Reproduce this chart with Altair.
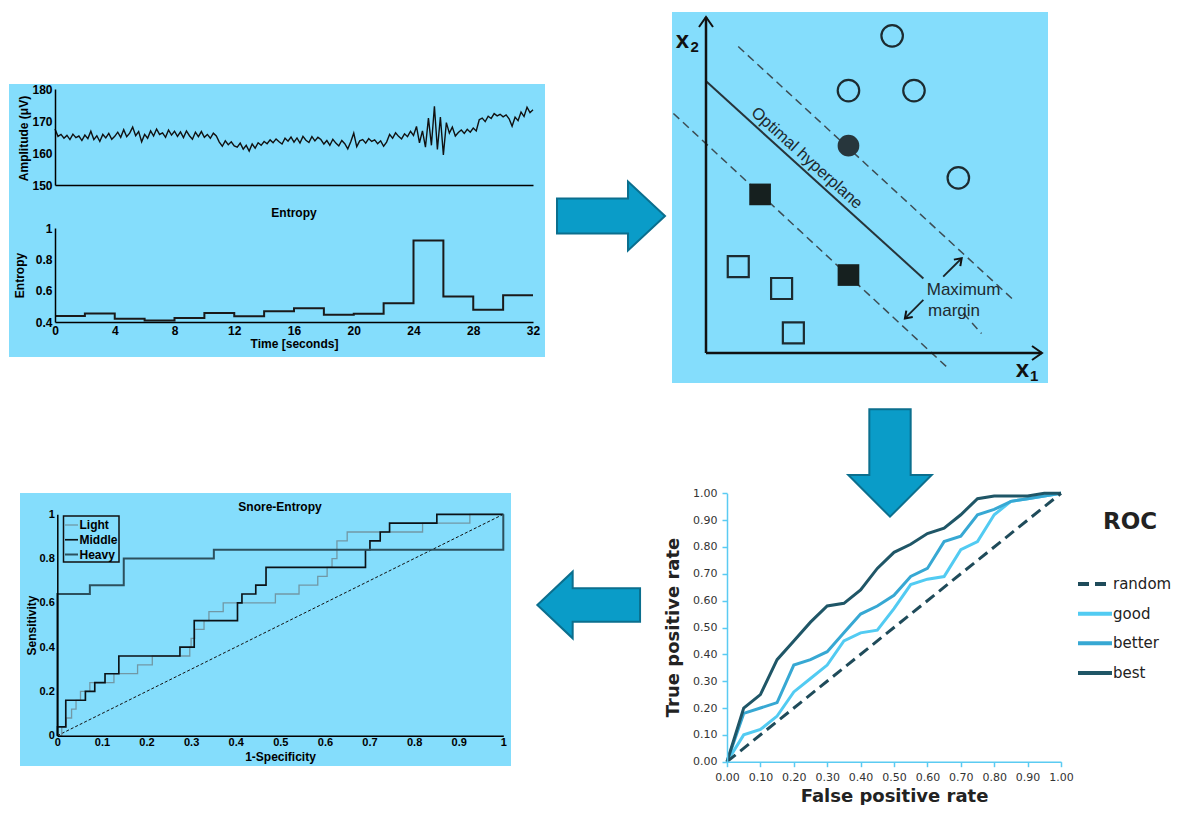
import altair as alt
import pandas as pd

# ------------------------------------------------------------------ data
# Panel 1: EEG amplitude (uV), read every 0.2 s from 0 s to 32 s
eeg_amplitude = [
    167.5, 165.2, 165.8, 164.6, 165.5, 164.2, 165.9, 164.8, 165.3, 163.9, 165.6,
    164.5, 166.8, 164.2, 165.4, 163.6, 165.8, 164.7, 166.1, 164.3, 165.2,
    166.5, 164.9, 167.3, 165.1, 166.2, 168.1, 165.4, 166.7, 163.5, 165.8,
    164.6, 166.9, 165.3, 167.5, 165.8, 166.3, 164.9, 167.2, 165.6, 166.8,
    165.2, 166.6, 164.8, 166.9, 165.4, 164.3, 166.5, 165.1, 166.7, 164.9,
    165.8, 164.6, 166.2, 165.3, 163.4, 162.1, 163.8, 162.6, 163.5, 162.2,
    161.8, 163.1, 161.2, 162.4, 160.6, 162.8, 161.5, 163.2, 162.4, 163.6,
    162.9, 164.1, 163.2, 164.4, 163.5, 162.8, 164.6, 163.7, 165.0, 163.4,
    164.7, 163.1, 165.2, 164.0, 163.3, 165.1, 163.8, 164.9, 164.2, 162.8,
    163.9, 162.4, 164.3, 163.1, 162.2, 163.9, 162.9, 161.3, 163.5, 166.2,
    162.0, 163.8, 164.2, 163.1, 164.5, 163.6, 164.1, 162.9, 163.8, 162.1,
    163.4, 165.8, 164.6, 166.3, 165.2, 164.4, 166.0, 165.1, 166.8, 165.5,
    168.3, 163.2, 166.9, 161.8, 170.9, 162.4, 174.6, 161.1, 171.2, 159.4,
    169.5, 166.2, 168.1, 165.3, 166.4, 167.2, 166.1, 167.4, 166.5, 167.8,
    166.9, 170.4, 170.9, 169.8, 171.5, 170.8, 172.3, 171.6, 172.1, 171.3,
    171.9, 170.7, 168.4, 171.2, 170.1, 172.8, 171.4, 174.3, 172.6, 173.5,
]
eeg_time = [round(0.2 * i, 1) for i in range(len(eeg_amplitude))]

# Panel 1: entropy per 2-s window
entropy_time = [0, 2, 4, 6, 8, 10, 12, 14, 16, 18, 20, 22, 24, 26, 28, 30, 32]
entropy_value = [0.438, 0.455, 0.421, 0.410, 0.425, 0.457, 0.436, 0.469, 0.488,
                 0.446, 0.453, 0.520, 0.920, 0.562, 0.478, 0.571, 0.571]

# Panel 2: SVM sketch (abstract units 0..10)
svm_open_circle_x = [5.54, 4.24, 6.19, 7.51]
svm_open_circle_y = [9.44, 7.81, 7.81, 5.21]
svm_filled_circle_x = [4.24]
svm_filled_circle_y = [6.17]
svm_filled_square_x = [1.61, 4.24]
svm_filled_square_y = [4.72, 2.32]
svm_open_square_x = [0.96, 2.25, 2.60]
svm_open_square_y = [2.57, 1.92, 0.60]
svm_axis_x0, svm_axis_y0, svm_axis_x1, svm_axis_y1 = [0, 0], [0, 0], [10, 0], [0, 10]
svm_plane_x0, svm_plane_y0, svm_plane_x1, svm_plane_y1 = [0.02], [8.07], [6.47], [2.22]
svm_margin_x0 = [0.96, -0.97, 7.66]
svm_margin_y0 = [9.12, 7.13, 1.18]
svm_margin_x1 = [9.15, 7.16, 8.20]
svm_margin_y1 = [1.58, -0.41, 0.58]
svm_pointer_x0, svm_pointer_y0 = [7.06, 6.47], [2.27, 1.58]
svm_pointer_x1, svm_pointer_y1 = [7.61, 5.92], [2.82, 1.03]
svm_head_x = [10, 0, 7.61, 5.92]
svm_head_y = [0, 10, 2.82, 1.03]
svm_head_angle = [0, 270, 315, 135]
svm_head_size = [400, 400, 170, 170]

# Panel 3: Snore-Entropy ROC (step curves)
light_fpr = [0, 0.010, 0.020, 0.032, 0.042, 0.052, 0.073, 0.127, 0.180, 0.213,
             0.297, 0.300, 0.308, 0.329, 0.340, 0.372, 0.489, 0.542, 0.584, 0.605,
             0.616, 0.627, 0.650, 0.819, 0.925, 1.0]
light_tpr = [0, 0.04, 0.08, 0.12, 0.16, 0.20, 0.24, 0.28, 0.32, 0.36,
             0.40, 0.44, 0.48, 0.52, 0.56, 0.60, 0.64, 0.68, 0.72, 0.76,
             0.80, 0.88, 0.92, 0.96, 1.0, 1.0]
middle_fpr = [0, 0, 0.019, 0.063, 0.084, 0.107, 0.138, 0.275, 0.307, 0.404,
              0.414, 0.445, 0.468, 0.691, 0.701, 0.724, 0.745, 0.851, 1.0]
middle_tpr = [0, 0.04, 0.16, 0.20, 0.24, 0.28, 0.36, 0.40, 0.52, 0.60,
              0.64, 0.68, 0.76, 0.84, 0.88, 0.92, 0.96, 1.0, 1.0]
heavy_fpr = [0, 0, 0.073, 0.149, 0.351, 1.0]
heavy_tpr = [0, 0.64, 0.68, 0.80, 0.84, 1.0]
snore_names = ["Light", "Middle", "Heavy"]
snore_colors = ["#7198a5", "#0b1216", "#2c505d"]
snore_widths = [1.3, 2.0, 2.0]

# Panel 4: ROC comparison
roc_fpr = [0.00, 0.05, 0.10, 0.15, 0.20, 0.25, 0.30, 0.35, 0.40, 0.45, 0.50,
           0.55, 0.60, 0.65, 0.70, 0.75, 0.80, 0.85, 0.90, 0.95, 1.00]
good_tpr = [0.00, 0.10, 0.12, 0.17, 0.26, 0.31, 0.36, 0.45, 0.48, 0.49, 0.57,
            0.66, 0.68, 0.69, 0.79, 0.82, 0.92, 0.97, 0.98, 0.99, 1.00]
better_tpr = [0.00, 0.18, 0.20, 0.22, 0.36, 0.38, 0.41, 0.48, 0.55, 0.58, 0.62,
              0.69, 0.72, 0.82, 0.84, 0.92, 0.94, 0.97, 0.98, 0.99, 1.00]
best_tpr = [0.00, 0.20, 0.25, 0.38, 0.45, 0.52, 0.58, 0.59, 0.64, 0.72, 0.78,
            0.81, 0.85, 0.87, 0.92, 0.98, 0.99, 0.99, 0.99, 1.00, 1.00]
random_fpr = [0, 1]
random_tpr = [0, 1]
roc_names = ["random", "good", "better", "best"]
roc_colors = ["#1f4b5a", "#52cbf2", "#37a8d3", "#1f5667"]
roc_dashes = [[11, 6], [1, 0], [1, 0], [1, 0]]

# ------------------------------------------------------------------ layout helpers
W, H = 1165, 797
OX, OY = 8, 8
BG = "#84DDFC"
MFONT = "Liberation Sans"
RFONT = "DejaVu Sans"
ARROW_FILL = "#0a9cc8"
ARROW_EDGE = "#0b6f8e"


def px(v):
    return v - OX


def py(v):
    return v - OY


one = pd.DataFrame({"k": [0]})


def lin_x(domain, a, b):
    return alt.Scale(domain=domain, range=[px(a), px(b)], nice=False, zero=False)


def lin_y(domain, a, b):
    return alt.Scale(domain=domain, range=[py(a), py(b)], nice=False, zero=False)


def rect(x0, y0, x1, y1, **kw):
    return alt.Chart(one).mark_rect(**kw).encode(
        x=alt.value(px(x0)), x2=alt.value(px(x1)), y=alt.value(py(y0)), y2=alt.value(py(y1)))


def label(text, x, y, **kw):
    return alt.Chart(one).mark_text(text=text, **kw).encode(x=alt.value(px(x)), y=alt.value(py(y)))


def arrow(path, cx, cy, span):
    return alt.Chart(one).mark_point(
        shape=path, size=span * span, filled=True, fill=ARROW_FILL, stroke=ARROW_EDGE,
        strokeWidth=2, opacity=1, fillOpacity=1, strokeOpacity=1,
    ).encode(x=alt.value(px(cx)), y=alt.value(py(cy)))


def m_left(axis_x, values, title, tx, ty, fmt=None, size=12):
    d = dict(orient="left", offset=-px(axis_x), values=values, ticks=False, tickSize=0,
             labelPadding=3, labelFont=MFONT, labelFontSize=size, labelFontWeight="bold",
             labelColor="black", domainColor="black", domainWidth=1.5, grid=False, zindex=1,
             labelOverlap=False, title=title, titleFont=MFONT, titleFontSize=12,
             titleFontWeight="bold", titleColor="black", titleAngle=270, titleAlign="center",
             titleBaseline="middle", titleX=tx - axis_x, titleY=py(ty))
    if fmt:
        d["format"] = fmt
    return alt.Axis(**d)


def m_bottom(axis_y, values, title, tx, ty, fmt=None, size=12, pad=3):
    d = dict(orient="bottom", offset=py(axis_y) - H, values=values, ticks=False, tickSize=0,
             labelPadding=pad, labelFont=MFONT, labelFontSize=size, labelFontWeight="bold",
             labelColor="black", domainColor="black", domainWidth=1.5, grid=False, zindex=1,
             labelOverlap=False, labelFlush=False, title=title, titleFont=MFONT,
             titleFontSize=12, titleFontWeight="bold", titleColor="black", titleAngle=0,
             titleAlign="center", titleBaseline="middle", titleX=px(tx), titleY=ty - axis_y)
    if fmt:
        d["format"] = fmt
    return alt.Axis(**d)


layers = []

# ------------------------------------------------------------------ panel backgrounds
layers.append(rect(9, 84, 545, 357, color=BG))
layers.append(rect(672, 12, 1048, 383, color=BG))
layers.append(rect(20, 493, 511, 766, color=BG))

# ------------------------------------------------------------------ panel 1: EEG + entropy
eeg_df = pd.DataFrame({"t": eeg_time, "amp": eeg_amplitude})
layers.append(alt.Chart(eeg_df).mark_line(color="#111111", strokeWidth=1.4).encode(
    x=alt.X("t:Q", scale=lin_x([0, 32], 55, 533),
            axis=alt.Axis(orient="bottom", offset=py(185) - H, labels=False, ticks=False,
                          tickSize=0, title=None, domainColor="black", domainWidth=1.5,
                          grid=False, zindex=1)),
    y=alt.Y("amp:Q", scale=lin_y([150, 180], 185, 89),
            axis=m_left(55, [150, 160, 170, 180], "Amplitude (μV)", 23, 138)),
))

ent_df = pd.DataFrame({"t": entropy_time, "ent": entropy_value})
layers.append(alt.Chart(ent_df).mark_line(color="#1a1a1a", strokeWidth=2, interpolate="step-after").encode(
    x=alt.X("t:Q", scale=lin_x([0, 32], 55, 533),
            axis=m_bottom(322, list(range(0, 33, 4)), "Time [seconds]", 294, 343)),
    y=alt.Y("ent:Q", scale=lin_y([0.4, 1.0], 322, 228),
            axis=m_left(55, [0.4, 0.6, 0.8, 1.0], "Entropy", 19, 275, fmt="~g")),
))
layers.append(label("Entropy", 294, 213, font=MFONT, fontSize=12, fontWeight="bold",
                    align="center", baseline="middle", color="black"))

# ------------------------------------------------------------------ panel 2: SVM sketch


def svx(field):
    return alt.X(field, scale=lin_x([0, 10], 706, 1042), axis=None)


def svy(field):
    return alt.Y(field, scale=lin_y([0, 10], 353, 17), axis=None)


def segments(x0, y0, x1, y1, **mk):
    df = pd.DataFrame({"a": x0, "b": y0, "c": x1, "d": y1})
    return alt.Chart(df).mark_rule(**mk).encode(x=svx("a:Q"), y=svy("b:Q"), x2="c:Q", y2="d:Q")


def svm_points(xs, ys, **mk):
    df = pd.DataFrame({"sx": xs, "sy": ys})
    return alt.Chart(df).mark_point(opacity=1, **mk).encode(x=svx("sx:Q"), y=svy("sy:Q"))


def svm_text(text, x, y, **mk):
    df = pd.DataFrame({"tx": [x], "ty": [y]})
    return alt.Chart(df).mark_text(text=text, **mk).encode(x=svx("tx:Q"), y=svy("ty:Q"))


layers.append(segments(svm_margin_x0, svm_margin_y0, svm_margin_x1, svm_margin_y1,
                       color="#3d4d54", strokeWidth=1.5, strokeDash=[8, 5]))
layers.append(segments(svm_plane_x0, svm_plane_y0, svm_plane_x1, svm_plane_y1,
                       color="#27343a", strokeWidth=2))
layers.append(segments(svm_axis_x0, svm_axis_y0, svm_axis_x1, svm_axis_y1,
                       color="#111111", strokeWidth=2.5))
layers.append(segments(svm_pointer_x0, svm_pointer_y0, svm_pointer_x1, svm_pointer_y1,
                       color="#1a2428", strokeWidth=1.8))
head_df = pd.DataFrame({"hx": svm_head_x, "hy": svm_head_y, "ang": svm_head_angle, "sz": svm_head_size})
layers.append(alt.Chart(head_df).mark_point(
    shape="M-1,-0.7L0,0L-1,0.7", filled=False, color="#111111", strokeWidth=2, opacity=1
).encode(x=svx("hx:Q"), y=svy("hy:Q"), angle=alt.Angle("ang:Q", scale=None),
         size=alt.Size("sz:Q", scale=None)))

layers.append(svm_points(svm_open_circle_x, svm_open_circle_y, shape="circle", filled=False,
                         color="#1c2b30", size=462, strokeWidth=2.2))
layers.append(svm_points(svm_filled_circle_x, svm_filled_circle_y, shape="circle", filled=True,
                         color="#27363c", size=470))
layers.append(svm_points(svm_filled_square_x, svm_filled_square_y, shape="square", filled=True,
                         color="#16201f", size=470))
layers.append(svm_points(svm_open_square_x, svm_open_square_y, shape="square", filled=False,
                         color="#1c2b30", size=441, strokeWidth=2.2))

layers.append(svm_text("Optimal hyperplane", 3.0, 5.8, angle=42, font=MFONT, fontSize=16.5,
                       color="#1e2a2f", align="center", baseline="middle"))
layers.append(svm_text("Maximum", 6.57, 1.88, font=MFONT, fontSize=17, color="#1e2a2f",
                       align="left", baseline="middle"))
layers.append(svm_text("margin", 6.61, 1.24, font=MFONT, fontSize=17, color="#1e2a2f",
                       align="left", baseline="middle"))
layers.append(label("x", 682.5, 48, font=MFONT, fontSize=24, fontWeight="bold", color="#111111",
                    align="center", baseline="alphabetic"))
layers.append(label("2", 690.5, 52, font=MFONT, fontSize=15, fontWeight="bold", color="#111111",
                    align="left", baseline="alphabetic"))
layers.append(label("x", 1022.5, 377, font=MFONT, fontSize=24, fontWeight="bold", color="#111111",
                    align="center", baseline="alphabetic"))
layers.append(label("1", 1030, 381, font=MFONT, fontSize=15, fontWeight="bold", color="#111111",
                    align="left", baseline="alphabetic"))

# ------------------------------------------------------------------ panel 3: Snore-Entropy ROC
rows = []
for name, fx, ty in [("Light", light_fpr, light_tpr), ("Middle", middle_fpr, middle_tpr),
                     ("Heavy", heavy_fpr, heavy_tpr)]:
    for i, (a, b) in enumerate(zip(fx, ty)):
        rows.append({"series": name, "fpr": a, "tpr": b, "i": i})
snore_df = pd.DataFrame(rows)
tenths = [round(0.1 * i, 1) for i in range(11)]
fifths = [round(0.2 * i, 1) for i in range(6)]

layers.append(alt.Chart(pd.DataFrame({"u": random_fpr, "v": random_tpr})).mark_line(
    color="#111111", strokeWidth=1, strokeDash=[3, 2]).encode(
    x=alt.X("u:Q", scale=lin_x([0, 1], 57.3, 503.3), axis=None),
    y=alt.Y("v:Q", scale=lin_y([0, 1], 735.7, 514.3), axis=None)))
layers.append(alt.Chart(snore_df).mark_line(interpolate="step-after").encode(
    x=alt.X("fpr:Q", scale=lin_x([0, 1], 57.3, 503.3),
            axis=m_bottom(735.7, tenths, "1-Specificity", 280, 756.5, fmt="~g", size=11, pad=1)),
    y=alt.Y("tpr:Q", scale=lin_y([0, 1], 735.7, 514.3),
            axis=m_left(57.3, fifths, "Sensitivity", 31.7, 625, fmt="~g", size=11)),
    color=alt.Color("series:N", scale=alt.Scale(domain=snore_names, range=snore_colors), legend=None),
    strokeWidth=alt.StrokeWidth("series:N", scale=alt.Scale(domain=snore_names, range=snore_widths),
                                legend=None),
    order=alt.Order("i:Q"),
))
layers.append(label("Snore-Entropy", 280, 506.5, font=MFONT, fontSize=12, fontWeight="bold",
                    align="center", baseline="middle", color="black"))
# legend box
layers.append(rect(63.5, 516, 119, 562, fill=BG, stroke="#111111", strokeWidth=1.5))
sleg = pd.DataFrame({"series": snore_names})
sleg_y = alt.Y("series:N", scale=alt.Scale(domain=snore_names, range=[py(525), py(554.5)],
                                            type="point", padding=0), axis=None)
layers.append(alt.Chart(sleg).mark_rule().encode(
    x=alt.value(px(65)), x2=alt.value(px(78)), y=sleg_y,
    color=alt.Color("series:N", scale=alt.Scale(domain=snore_names, range=snore_colors), legend=None),
    strokeWidth=alt.StrokeWidth("series:N", scale=alt.Scale(domain=snore_names, range=snore_widths),
                                legend=None)))
layers.append(alt.Chart(sleg).mark_text(align="left", baseline="middle", font=MFONT, fontSize=12,
                                        fontWeight="bold", color="black").encode(
    x=alt.value(px(79.5)), y=sleg_y, text="series:N"))

# ------------------------------------------------------------------ panel 4: ROC comparison
rrows = []
for name, ty in [("good", good_tpr), ("better", better_tpr), ("best", best_tpr)]:
    for a, b in zip(roc_fpr, ty):
        rrows.append({"series": name, "fpr": a, "tpr": b})
roc_df = pd.DataFrame(rrows)
raxis = dict(domainColor="#5bcbf2", domainWidth=1.5, tickColor="#5bcbf2", tickWidth=1.5,
             tickSize=5, labelFont=RFONT, labelFontSize=11, labelColor="#333333",
             grid=False, zindex=1, labelOverlap=False, format=".2f", values=tenths,
             titleFont=RFONT, titleFontSize=18, titleFontWeight="bold", titleColor="#222222",
             titleAlign="center", titleBaseline="middle")
layers.append(alt.Chart(roc_df).mark_line(strokeWidth=3).encode(
    x=alt.X("fpr:Q", scale=lin_x([0, 1], 727, 1061),
            axis=alt.Axis(orient="bottom", offset=py(761.7) - H, labelPadding=5, labelFlush=False,
                          title="False positive rate", titleX=px(894), titleY=796 - 761.7,
                          titleAngle=0, **raxis)),
    y=alt.Y("tpr:Q", scale=lin_y([0, 1], 761.7, 493.3),
            axis=alt.Axis(orient="left", offset=-px(727), labelPadding=5,
                          title="True  positive rate", titleX=673 - 727, titleY=py(627),
                          titleAngle=270, **raxis)),
    color=alt.Color("series:N", scale=alt.Scale(domain=roc_names, range=roc_colors), legend=None),
))
layers.append(alt.Chart(pd.DataFrame({"u": random_fpr, "v": random_tpr})).mark_line(
    color=roc_colors[0], strokeWidth=3, strokeDash=[11, 6]).encode(
    x=alt.X("u:Q", scale=lin_x([0, 1], 727, 1061), axis=None),
    y=alt.Y("v:Q", scale=lin_y([0, 1], 761.7, 493.3), axis=None)))
layers.append(label("ROC", 1130, 522, font=RFONT, fontSize=23, fontWeight="bold",
                    color="#222222", align="center", baseline="middle"))
rleg = pd.DataFrame({"series": roc_names})
rleg_y = alt.Y("series:N", scale=alt.Scale(domain=roc_names, range=[py(584), py(673)],
                                            type="point", padding=0), axis=None)
layers.append(alt.Chart(rleg).mark_rule(strokeWidth=4).encode(
    x=alt.value(px(1078)), x2=alt.value(px(1112)), y=rleg_y,
    color=alt.Color("series:N", scale=alt.Scale(domain=roc_names, range=roc_colors), legend=None),
    strokeDash=alt.StrokeDash("series:N", scale=alt.Scale(domain=roc_names, range=roc_dashes),
                              legend=None)))
layers.append(alt.Chart(rleg).mark_text(align="left", baseline="middle", font=RFONT, fontSize=15,
                                        color="#222222").encode(
    x=alt.value(px(1113)), y=rleg_y, text="series:N"))

# ------------------------------------------------------------------ flow arrows
layers.append(arrow("M-1,-0.324L0.315,-0.324L0.315,-0.639L1,0L0.315,0.639L0.315,0.324L-1,0.324Z",
                    611, 216, 108))
layers.append(arrow("M-0.385,-1L0.385,-1L0.385,0.223L0.776,0.223L0,1L-0.776,0.223L-0.385,0.223Z",
                    890, 463, 107.4))
layers.append(arrow("M-1,0L-0.312,-0.649L-0.312,-0.325L1,-0.325L1,0.325L-0.312,0.325L-0.312,0.649Z",
                    588.7, 605, 102.7))

chart = alt.layer(*layers).properties(
    width=W, height=H, padding=0, autosize=alt.AutoSizeParams(type="none"),
    background="white",
).resolve_scale(
    x="independent", y="independent", color="independent",
    strokeWidth="independent", strokeDash="independent",
).configure_view(stroke=None)

chart.save("out.html", embed_options={"renderer": "svg", "actions": False})
